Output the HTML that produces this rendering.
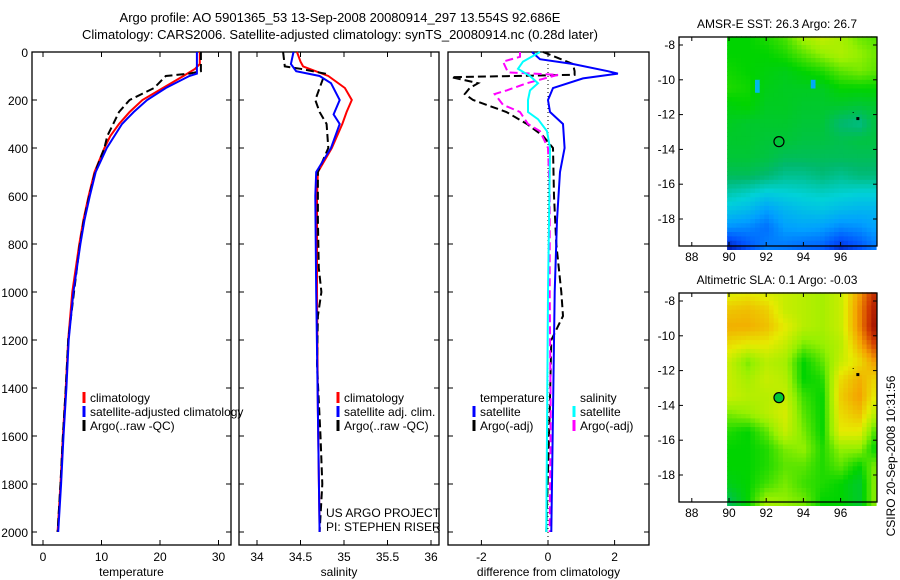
<!DOCTYPE html>
<html><head><meta charset="utf-8"><style>
html,body{margin:0;padding:0;background:#fff}
svg{display:block;font-family:"Liberation Sans",sans-serif}
</style></head><body>
<svg id="fig" xmlns="http://www.w3.org/2000/svg" width="900" height="580" viewBox="0 0 900 580">
<text x="340" y="22" font-size="13" text-anchor="middle">Argo profile: AO 5901365_53 13-Sep-2008 20080914_297 13.554S 92.686E</text>
<text x="340" y="39" font-size="13" text-anchor="middle">Climatology: CARS2006. Satellite-adjusted climatology: synTS_20080914.nc (0.28d later)</text>
<g id="g1"></g>
<g id="g2"></g>
<g id="g3"></g>
<g id="m1"></g>
<g id="m2"></g>
<text x="0" y="0" font-size="12" text-anchor="middle" transform="translate(895,456) rotate(-90)">CSIRO 20-Sep-2008 10:31:56</text>
</svg>
<script>
const tClimD=[0,50,70,100,150,200,250,300,350,400,500,600,700,800,1000,1200,1400,1600,1800,2000];
const tClimV=[26.8,26.8,26,24,20.5,17,14.8,13,11.5,10.5,8.8,7.8,6.9,6.2,5.0,4.3,3.9,3.4,3.0,2.5];
const tSatD=[0,90,100,150,200,250,300,400,500,600,700,800,1000,1200,1400,1600,1800,2000];
const tSatV=[26.3,26.3,25,21,17.8,15.5,13.5,10.9,9,8,7.1,6.4,5.2,4.4,4.0,3.5,3.1,2.6];
const tArgD=[0,80,90,100,150,200,250,300,350,400,500,600,700,800,1000,1200,1400,1600,1800,2000];
const tArgV=[27,27,25,21,19,14.8,13,12,11,10.5,8.9,7.9,7.0,6.3,5.3,4.3,3.9,3.4,3.0,2.5];
const sClimD=[0,40,60,100,150,200,250,300,400,500,600,1000,1500,2000];
const sClimV=[34.46,34.5,34.53,34.82,35.01,35.09,35.03,34.98,34.86,34.7,34.69,34.69,34.7,34.72];
const sSatD=[0,50,80,100,130,200,260,300,400,500,600,1000,1500,2000];
const sSatV=[34.42,34.39,34.45,34.72,34.85,34.95,34.88,34.95,34.85,34.68,34.67,34.68,34.7,34.72];
const sArgD=[0,60,70,90,150,200,250,300,400,500,700,900,1000,1100,1300,1600,1800,2000];
const sArgV=[34.3,34.32,34.5,34.78,34.72,34.67,34.72,34.8,34.82,34.7,34.7,34.71,34.74,34.7,34.69,34.73,34.75,34.72];
const dTSatD=[0,30,50,80,90,110,150,200,250,300,400,500,700,1000,1500,2000];
const dTSatV=[-0.48,-0.24,0.75,1.8,2.1,1.05,0.15,0,0.06,0.45,0.5,0.36,0.27,0.2,0.15,0.1];
const dTArgD=[0,50,80,95,105,130,150,175,200,250,300,350,400,600,800,1000,1100,1200,1500,2000];
const dTArgV=[-0.15,0.75,0.8,0.8,-2.9,-2.1,-2.35,-2.5,-2.25,-1.25,-0.63,-0.15,0.15,0.18,0.25,0.4,0.45,0.1,0.05,-0.05];
const dSSatD=[0,40,70,100,130,160,200,250,280,330,400,500,1000,2000];
const dSSatV=[-0.24,-0.75,-0.9,-0.54,-0.3,-0.54,-0.6,-0.6,-0.3,-0.03,0.06,0.05,0,-0.05];
const dSArgD=[0,20,40,85,95,130,160,175,220,250,300,330,400,600,1000,1500,2000];
const dSArgV=[-0.84,-0.84,-1.35,-1.2,0.3,-0.63,-1.24,-1.6,-1.35,-0.84,-0.6,-0.24,0,0.05,0.05,0.08,0.05];
const depthTicks=[0,200,400,600,800,1000,1200,1400,1600,1800,2000];
const tTicks=[0,10,20,30];
const sTicks=[34,34.5,35,35.5,36];
const dTicks=[-2,0,2];
const mapLons=[90,91,92,93,94,95,96,97,98];
const mapLats=[-7.5,-8.5,-9.5,-10.5,-11.5,-12.5,-13.5,-14.5,-15.5,-16.5,-17.5,-18.5,-19.6];
const sstGrid=[
[0.5,0.5,0.52,0.55,0.62,0.66,0.62,0.57,0.55],
[0.5,0.5,0.5,0.52,0.56,0.6,0.63,0.6,0.57],
[0.51,0.5,0.49,0.48,0.5,0.52,0.56,0.58,0.56],
[0.52,0.51,0.48,0.47,0.47,0.47,0.5,0.5,0.5],
[0.49,0.5,0.47,0.47,0.46,0.46,0.46,0.45,0.46],
[0.47,0.46,0.46,0.46,0.45,0.45,0.4,0.38,0.45],
[0.46,0.46,0.45,0.45,0.44,0.44,0.43,0.44,0.44],
[0.45,0.45,0.44,0.42,0.42,0.42,0.42,0.42,0.42],
[0.42,0.42,0.4,0.37,0.37,0.39,0.37,0.39,0.39],
[0.34,0.32,0.29,0.3,0.31,0.32,0.31,0.3,0.3],
[0.27,0.25,0.2,0.24,0.26,0.27,0.25,0.24,0.24],
[0.18,0.17,0.14,0.2,0.21,0.2,0.17,0.18,0.21],
[0.04,0.1,0.16,0.15,0.13,0.12,0.06,0.1,0.16]];
const slaGrid=[
[0.68,0.7,0.68,0.66,0.64,0.62,0.66,0.8,0.95],
[0.75,0.76,0.74,0.66,0.64,0.62,0.66,0.82,0.98],
[0.78,0.78,0.76,0.7,0.64,0.62,0.66,0.82,1.0],
[0.72,0.7,0.7,0.66,0.58,0.6,0.64,0.78,0.92],
[0.66,0.58,0.64,0.62,0.5,0.56,0.66,0.72,0.82],
[0.66,0.62,0.66,0.64,0.5,0.52,0.72,0.78,0.72],
[0.66,0.64,0.64,0.66,0.54,0.5,0.74,0.8,0.68],
[0.58,0.6,0.64,0.68,0.56,0.5,0.72,0.76,0.62],
[0.52,0.5,0.56,0.66,0.58,0.5,0.7,0.7,0.52],
[0.5,0.5,0.52,0.58,0.6,0.52,0.6,0.6,0.48],
[0.5,0.5,0.52,0.56,0.56,0.52,0.56,0.5,0.6],
[0.48,0.5,0.54,0.58,0.54,0.52,0.5,0.46,0.62],
[0.42,0.5,0.62,0.6,0.58,0.5,0.5,0.46,0.62]];
const lonTicks=[88,90,92,94,96];
const latTicks=[-8,-10,-12,-14,-16,-18];
const floatLon=92.686, floatLat=-13.554;

const NS="http://www.w3.org/2000/svg";
function mk(parent,tag,attrs,txt){const e=document.createElementNS(NS,tag);for(const k in attrs)e.setAttribute(k,attrs[k]);if(txt!==undefined)e.textContent=txt;parent.appendChild(e);return e;}

const PT=52, PB=545, D0=52, DK=0.24;
const yD=d=>D0+d*DK;

function panel(g,x0,x1,xs,xt,xlabel,showY,name){
  let r=mk(g,'rect',{x:x0,y:PT,width:x1-x0,height:PB-PT,fill:'none',stroke:'#000','stroke-width':1.3});
  
  
  depthTicks.forEach(d=>{
    const y=yD(d);
    mk(g,'line',{x1:x0,x2:x0+5,y1:y,y2:y,stroke:'#000'});
    mk(g,'line',{x1:x1,x2:x1-5,y1:y,y2:y,stroke:'#000'});
    if(showY){const t=mk(g,'text',{x:x0-4,y:y+5,'font-size':12,'text-anchor':'end'},String(d));
      
      }
  });
  xt.forEach(v=>{
    const x=xs(v);
    mk(g,'line',{x1:x,x2:x,y1:PB,y2:PB-5,stroke:'#000'});
    mk(g,'line',{x1:x,x2:x,y1:PT,y2:PT+5,stroke:'#000'});
    const t=mk(g,'text',{x:x,y:PB+16,'font-size':12,'text-anchor':'middle'},String(v));
    
    
  });
  const l=mk(g,'text',{x:(x0+x1)/2,y:PB+31,'font-size':12,'text-anchor':'middle'},xlabel);
  
  
}
function series(g,D,V,xs,color,dash,name){
  const pts=D.map((d,i)=>xs(V[i]).toFixed(1)+','+yD(d).toFixed(1)).join(' ');
  const a={points:pts,fill:'none',stroke:color,'stroke-width':2};
  if(dash)a['stroke-dasharray']=dash;
  const p=mk(g,'polyline',a);
  
  
}
function legend(g,x,y,items){
  items.forEach((it,i)=>{
    if(it.c){mk(g,'line',{x1:x,x2:x,y1:y+i*14-10,y2:y+i*14+1,stroke:it.c,'stroke-width':3});}
    const t=mk(g,'text',{x:x+6,y:y+i*14,'font-size':12},it.t);
    
    
  });
}
const g1=document.getElementById('g1');
const xT=v=>43+v*5.85;
panel(g1,32,231,xT,tTicks,'temperature',true,'temperature');
series(g1,tClimD,tClimV,xT,'#f00',null,'temp-climatology-line');
series(g1,tArgD,tArgV,xT,'#000','8,4','temp-argo-line');
series(g1,tSatD,tSatV,xT,'#00f',null,'temp-satellite-line');
legend(g1,84,402,[{c:'#f00',t:'climatology'},{c:'#00f',t:'satellite-adjusted climatology'},{c:'#000',t:'Argo(..raw -QC)'}]);
const g2=document.getElementById('g2');
const xS=v=>257+(v-34)*87;
panel(g2,239,439,xS,sTicks,'salinity',false,'salinity');
series(g2,sClimD,sClimV,xS,'#f00',null,'sal-climatology-line');
series(g2,sArgD,sArgV,xS,'#000','8,4','sal-argo-line');
series(g2,sSatD,sSatV,xS,'#00f',null,'sal-satellite-line');
legend(g2,338,402,[{c:'#f00',t:'climatology'},{c:'#00f',t:'satellite adj. clim.'},{c:'#000',t:'Argo(..raw -QC)'}]);
let tx=mk(g2,'text',{x:326,y:517,'font-size':12},'US ARGO PROJECT');

tx=mk(g2,'text',{x:326,y:531,'font-size':12},'PI: STEPHEN RISER');

const g3=document.getElementById('g3');
const xDf=v=>548+v*33.3;
panel(g3,448,649,xDf,dTicks,'difference from climatology',false,'difference');
mk(g3,'line',{x1:xDf(0),x2:xDf(0),y1:PT,y2:PB,stroke:'#000','stroke-dasharray':'1,3'});
series(g3,dTArgD,dTArgV,xDf,'#000','8,4','diff-temp-argo-line');
series(g3,dSArgD,dSArgV,xDf,'#f0f','8,4','diff-sal-argo-line');
series(g3,dTSatD,dTSatV,xDf,'#00f',null,'diff-temp-satellite-line');
series(g3,dSSatD,dSSatV,xDf,'#0ff',null,'diff-sal-satellite-line');
legend(g3,474,402,[{c:null,t:'temperature'},{c:'#00f',t:'satellite'},{c:'#000',t:'Argo(-adj)'}]);
legend(g3,574,402,[{c:null,t:'salinity'},{c:'#0ff',t:'satellite'},{c:'#f0f',t:'Argo(-adj)'}]);

const pal=[[0,0,140],[0,80,255],[0,160,255],[0,210,215],[0,185,110],[0,212,0],[150,240,0],[230,235,0],[245,160,0],[210,60,0],[140,0,0]];
function col(v){v=Math.max(0,Math.min(1,v))*10;const i=Math.min(9,Math.floor(v)),f=v-i;const a=pal[i],b=pal[i+1];
  return 'rgb('+a.map((c,k)=>Math.round(c+(b[k]-c)*f)).join(',')+')';}
function interp(grid,lon,lat){
  let ci=(lon-mapLons[0]);ci=Math.max(0,Math.min(mapLons.length-1.0001,ci));
  let ri=0;while(ri<mapLats.length-2&&lat<mapLats[ri+1])ri++;
  let fr=(mapLats[ri]-lat)/(mapLats[ri]-mapLats[ri+1]);fr=Math.max(0,Math.min(1,fr));
  const c=Math.floor(ci),fc=ci-c;
  const v00=grid[ri][c],v01=grid[ri][c+1],v10=grid[ri+1][c],v11=grid[ri+1][c+1];
  return (v00*(1-fc)+v01*fc)*(1-fr)+(v10*(1-fc)+v11*fc)*fr;
}
function map(g,oy,grid,title,filled,spots){
  const xL=lon=>729+(lon-90)*18.6, yL=lat=>oy+45+(-8-lat)*17.4;
  const t=mk(g,'text',{x:777,y:oy+28,'font-size':12,'text-anchor':'middle'},title);
  
  const step=0.25;
  for(let lat=-7.5;lat>-19.6;lat-=step){
    for(let lon=89.9;lon<97.9;lon+=step){
      let v=interp(grid,lon+step/2,lat-step/2);
      spots.forEach(s=>{if(Math.abs(lon+step/2-s[0])<0.2&&Math.abs(lat-step/2-s[1])<0.3)v=s[2];});
      const r=mk(g,'rect',{x:xL(lon).toFixed(1),y:yL(lat).toFixed(1),width:(step*18.6+0.6).toFixed(1),height:(step*17.4+0.6).toFixed(1),fill:col(v)});
      
      
    }
  }
  const top=oy+37,bot=oy+246;
  mk(g,'rect',{x:679,y:top,width:198,height:bot-top,fill:'none',stroke:'#000','stroke-width':1.3});
  lonTicks.forEach(l=>{const x=xL(l);
    mk(g,'line',{x1:x,x2:x,y1:bot,y2:bot-4,stroke:'#000'});mk(g,'line',{x1:x,x2:x,y1:top,y2:top+4,stroke:'#000'});
    const tt=mk(g,'text',{x:x,y:bot+15,'font-size':12,'text-anchor':'middle'},String(l));
    });
  latTicks.forEach(l=>{const y=yL(l);
    mk(g,'line',{x1:679,x2:683,y1:y,y2:y,stroke:'#000'});mk(g,'line',{x1:877,x2:873,y1:y,y2:y,stroke:'#000'});
    const tt=mk(g,'text',{x:675,y:y+4,'font-size':12,'text-anchor':'end'},String(l));
    });
  const c=mk(g,'circle',{cx:xL(floatLon),cy:yL(floatLat),r:5,fill:filled?col(0.45):'none',stroke:'#000','stroke-width':1.2});
  
  mk(g,'rect',{x:xL(96.9)-1,y:yL(-12.2)-1,width:3,height:3,fill:'#000'});
  mk(g,'rect',{x:xL(96.65),y:yL(-11.85),width:1,height:1,fill:'#000'});
}
map(document.getElementById('m1'),0,sstGrid,'AMSR-E SST: 26.3 Argo: 26.7',false,[[91.5,-10.4,0.25],[94.5,-10.3,0.22]]);
map(document.getElementById('m2'),256,slaGrid,'Altimetric SLA: 0.1 Argo: -0.03',true,[]);
</script>
</body></html>
